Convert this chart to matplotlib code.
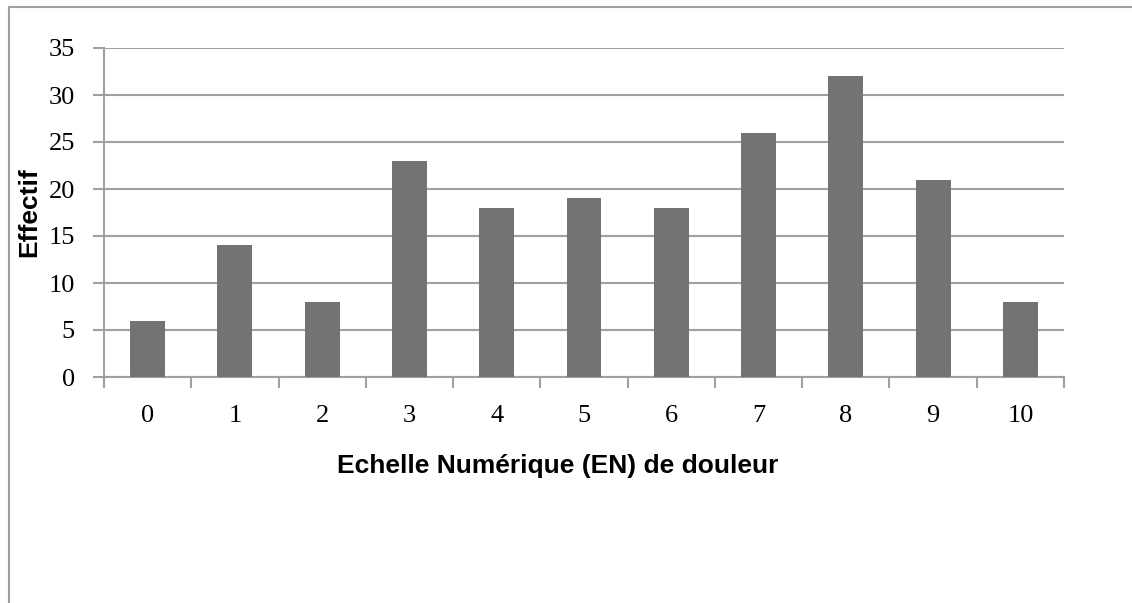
import matplotlib
matplotlib.use('Agg')
import matplotlib.pyplot as plt
from matplotlib.lines import Line2D

categories = ['0', '1', '2', '3', '4', '5', '6', '7', '8', '9', '10']
effectif = [6, 14, 8, 23, 18, 19, 18, 26, 32, 21, 8]
y_ticks = [0, 5, 10, 15, 20, 25, 30, 35]

W, H = 1132, 603
fig = plt.figure(figsize=(W / 100, H / 100), dpi=100)
ax = fig.add_axes([104 / W, 1 - 377 / H, 960 / W, 329 / H])

grey = '#a0a0a0'
x = list(range(len(categories)))
ax.bar(x, effectif, width=0.4, color='#737373', zorder=3)

ax.set_xlim(-0.5, len(categories) - 0.5)
ax.set_ylim(0, 35)
ax.set_yticks(y_ticks)
ax.yaxis.grid(True, color=grey, linewidth=1.5, zorder=0)

# ticks between categories on x, like a spreadsheet chart
ax.set_xticks([i - 0.5 for i in range(len(categories) + 1)], minor=False)
ax.set_xticklabels([])
ax.set_xticks(x, minor=True)
ax.set_xticklabels(categories, minor=True)
ax.tick_params(axis='x', which='major', length=8, width=1.5, color=grey)
ax.tick_params(axis='x', which='minor', length=0, pad=20)
ax.tick_params(axis='y', length=8, width=1.5, color=grey, pad=13)

for lab in ax.get_xticklabels(minor=True) + ax.get_yticklabels():
    lab.set_family('Liberation Serif')
    lab.set_fontsize(19)

for side in ['top', 'right']:
    ax.spines[side].set_visible(False)
for side in ['left', 'bottom']:
    ax.spines[side].set_color(grey)
    ax.spines[side].set_linewidth(1.5)

fig.text(29 / W, 1 - 212 / H, 'Effectif', rotation=90, ha='center', va='center',
         family='Liberation Sans', fontweight='bold', fontsize=19)
fig.text(558 / W, 1 - 473 / H, 'Echelle Numérique (EN) de douleur', ha='center',
         va='baseline', family='Liberation Sans', fontweight='bold', fontsize=19)

# outer chart frame (only top and left edges visible)
fig.add_artist(Line2D([9 / W, 9 / W], [0, 1 - 7 / H], color=grey, linewidth=1.5,
                      transform=fig.transFigure))
fig.add_artist(Line2D([9 / W, 1], [1 - 7 / H, 1 - 7 / H], color=grey, linewidth=1.5,
                      transform=fig.transFigure))

fig.savefig('out.png', dpi=100)
